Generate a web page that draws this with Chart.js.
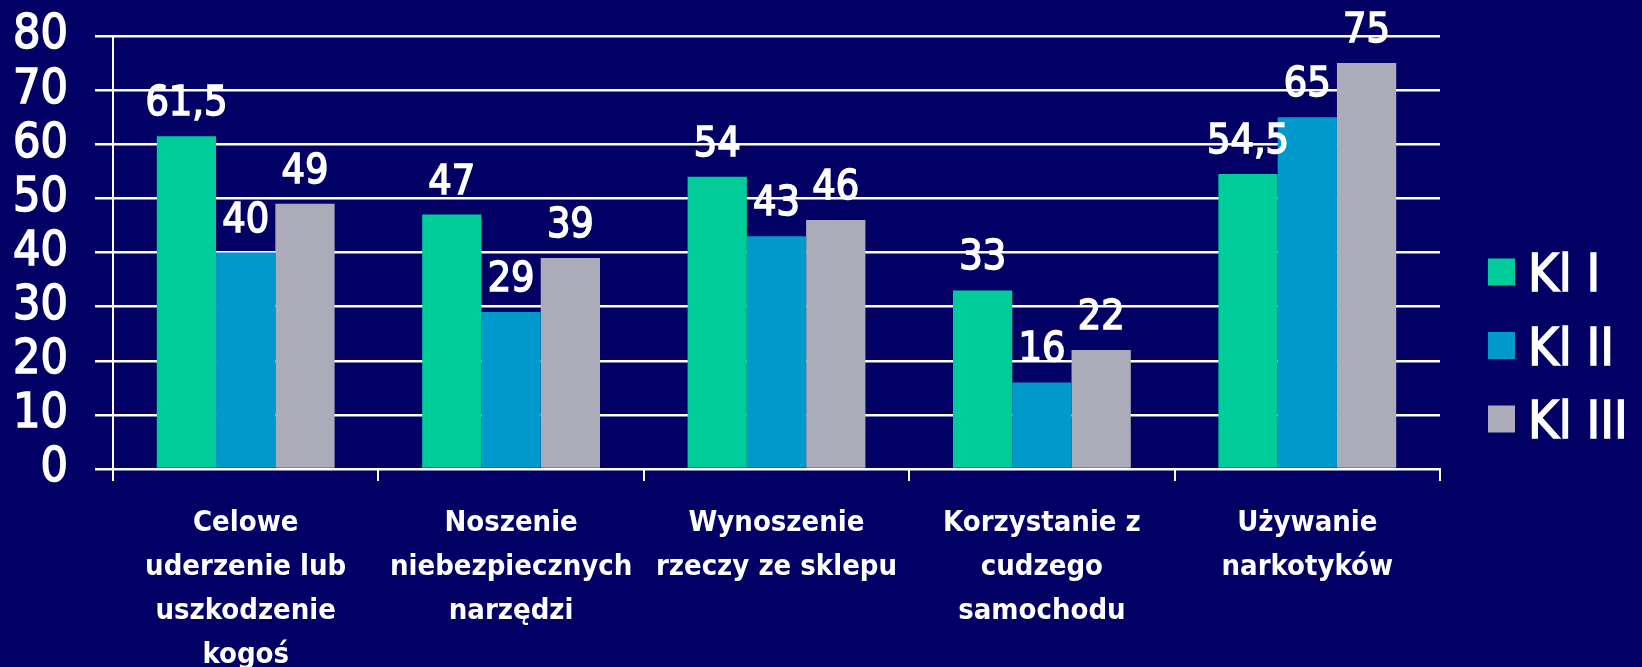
<!DOCTYPE html>
<html>
<head>
<meta charset="utf-8">
<script src="https://cdn.jsdelivr.net/npm/chart.js@4.4.0/dist/chart.umd.min.js"></script>
<style>
html, body { margin: 0; padding: 0; background: #020064; }
#wrap { width: 1642px; height: 667px; }
</style>
</head>
<body>
<div id="wrap"><canvas id="c" width="1642" height="667"></canvas></div>
<script>
// data
var categories = [
  ['Celowe', 'uderzenie lub', 'uszkodzenie', 'kogoś'],
  ['Noszenie', 'niebezpiecznych', 'narzędzi'],
  ['Wynoszenie', 'rzeczy ze sklepu'],
  ['Korzystanie z', 'cudzego', 'samochodu'],
  ['Używanie', 'narkotyków']
];
var seriesNames = ['Kl I', 'Kl II', 'Kl III'];
var klasa1 = [61.5, 47, 54, 33, 54.5];
var klasa2 = [40, 29, 43, 16, 65];
var klasa3 = [49, 39, 46, 22, 75];
var yMin = 0, yMax = 80, yStep = 10;

var colors = ['#00CC99', '#0099CC', '#ABABB9'];
var fam = '"DejaVu Sans Condensed", "DejaVu Sans", sans-serif';

// values above the bars, comma as decimal mark
var valueLabels = {
  id: 'valueLabels',
  afterDatasetsDraw: function(chart) {
    var ctx = chart.ctx;
    ctx.save();
    ctx.fillStyle = '#ffffff';
    ctx.strokeStyle = '#ffffff';
    ctx.lineWidth = 1.5;
    ctx.font = '41px ' + fam;
    ctx.textAlign = 'center';
    ctx.textBaseline = 'alphabetic';
    chart.data.datasets.forEach(function(ds, i) {
      chart.getDatasetMeta(i).data.forEach(function(bar, j) {
        var t = String(ds.data[j]).replace('.', ',');
        ctx.fillText(t, bar.x, bar.y - 21);
        ctx.strokeText(t, bar.x, bar.y - 21);
      });
    });
    ctx.restore();
  }
};

// legend on the right, boxes close to the text
var sideLegend = {
  id: 'sideLegend',
  afterDraw: function(chart) {
    var ctx = chart.ctx;
    var x0 = chart.chartArea.right + 48;
    ctx.save();
    ctx.font = '52px ' + fam;
    ctx.textAlign = 'left';
    ctx.textBaseline = 'alphabetic';
    ctx.strokeStyle = '#ffffff';
    ctx.lineWidth = 1.5;
    chart.data.datasets.forEach(function(ds, i) {
      var cy = 272 + i * 73.5;
      ctx.fillStyle = ds.backgroundColor;
      ctx.fillRect(x0, cy - 13.5, 27, 27);
      ctx.fillStyle = '#ffffff';
      ctx.fillText(ds.label, x0 + 40, cy + 19);
      ctx.strokeText(ds.label, x0 + 40, cy + 19);
    });
    ctx.restore();
  }
};

var ds = [klasa1, klasa2, klasa3].map(function(vals, i) {
  return {
    label: seriesNames[i],
    data: vals,
    backgroundColor: colors[i],
    borderWidth: 0,
    categoryPercentage: 0.67,
    barPercentage: 1.0
  };
});

new Chart(document.getElementById('c'), {
  type: 'bar',
  data: { labels: categories, datasets: ds },
  options: {
    responsive: false,
    animation: false,
    layout: { padding: { top: 36, right: 202, left: 0, bottom: 0 } },
    plugins: {
      legend: { display: false },
      tooltip: { enabled: false }
    },
    scales: {
      x: {
        afterFit: function(s) { s.height = 198; },
        grid: { offset: true, drawOnChartArea: false, color: '#ffffff', lineWidth: 2, tickLength: 12 },
        border: { display: true, color: '#ffffff', width: 2 },
        ticks: {
          color: '#ffffff',
          font: { family: fam, size: 29, weight: 'bold', lineHeight: 1.52 },
          padding: 20,
          maxRotation: 0,
          autoSkip: false
        }
      },
      y: {
        min: yMin,
        max: yMax,
        afterFit: function(s) { s.width = 113; s.paddingTop = 0; s.paddingBottom = 0; },
        grid: { color: '#ffffff', lineWidth: 2.5, tickLength: 18 },
        border: { display: true, color: '#ffffff', width: 2 },
        ticks: {
          stepSize: yStep,
          autoSkip: false,
          color: '#ffffff',
          font: { family: fam, size: 48 },
          textStrokeColor: '#ffffff',
          textStrokeWidth: 1.5,
          padding: 27
        }
      }
    }
  },
  plugins: [valueLabels, sideLegend]
});
</script>
</body>
</html>
